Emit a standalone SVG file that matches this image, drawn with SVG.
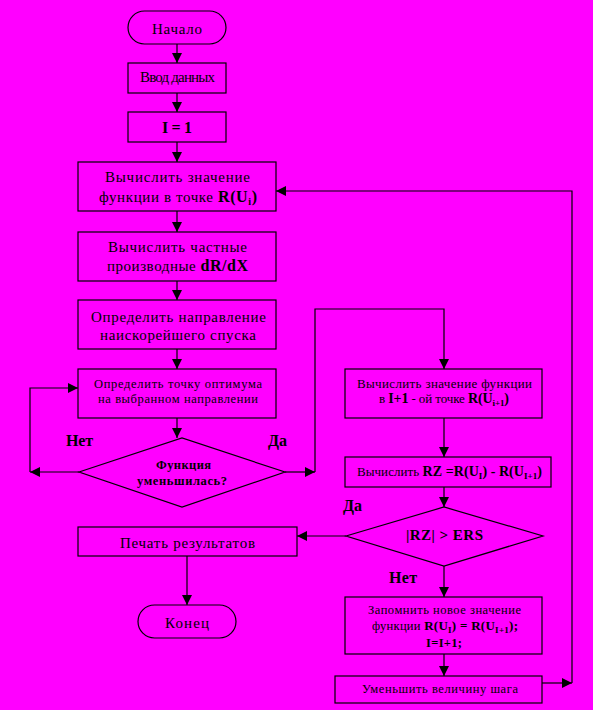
<svg xmlns="http://www.w3.org/2000/svg" width="593" height="710" viewBox="0 0 593 710">
<defs>
<marker id="ah" markerUnits="userSpaceOnUse" markerWidth="10" markerHeight="10" refX="10" refY="5" orient="auto"><path d="M0,0 L10,5 L0,10 z" fill="#000"/></marker>
</defs>
<style>
.bx{fill:none;stroke:#000;stroke-width:1.2}
.t{font-family:"Liberation Serif","Times New Roman",serif;font-size:15px;fill:#000;text-anchor:middle}
.s{font-size:12.5px}
.m{font-size:13px}
.b{font-weight:bold}
.l{font-size:16px}
.c{fill:none;stroke:#000;stroke-width:1.2}
</style>
<rect width="593" height="710" fill="#FF00FF"/>

<g id="start">
<rect class="bx" x="128" y="11" width="98" height="33" rx="16.5"/>
<text class="t" x="177" y="34" textLength="50">Начало</text>
</g>
<g id="input">
<rect class="bx" x="128" y="63" width="98" height="30"/>
<text class="t" x="177.5" y="82" textLength="75">Ввод данных</text>
</g>
<g id="init">
<rect class="bx" x="128" y="112" width="98" height="30"/>
<text class="t b" x="177" y="133" textLength="30" style="font-size:16px">I = 1</text>
</g>
<g id="calc-value">
<rect class="bx" x="78" y="162" width="198" height="49"/>
<text class="t" x="177.5" y="182" textLength="145">Вычислить значение</text>
<text class="t" x="178" y="202" textLength="158">функции в точке <tspan class="b" style="font-size:16px">R(U</tspan><tspan class="b" style="font-size:10px" dy="3">i</tspan><tspan class="b" style="font-size:16px" dy="-3">)</tspan></text>
</g>
<g id="calc-deriv">
<rect class="bx" x="78" y="232" width="198" height="49"/>
<text class="t" x="177.5" y="252" textLength="139">Вычислить частные</text>
<text class="t" x="177.5" y="271" textLength="141">производные <tspan class="b" style="font-size:16px">dR/dX</tspan></text>
</g>
<g id="direction">
<rect class="bx" x="78" y="300" width="198" height="49"/>
<text class="t" x="178.5" y="322" textLength="175">Определить направление</text>
<text class="t" x="178" y="340" textLength="156">наискорейшего спуска</text>
</g>
<g id="optimum">
<rect class="bx" x="78" y="369" width="198" height="49"/>
<text class="t s" x="178" y="388" textLength="168">Определить точку оптимума</text>
<text class="t s" x="178" y="403" textLength="160">на выбранном направлении</text>
</g>
<g id="decreased">
<polygon class="bx" points="79,472 182,438 285,472 182,507"/>
<text class="t s b" x="183.5" y="469" textLength="55">Функция</text>
<text class="t s b" x="182" y="485" textLength="90">уменьшилась?</text>
</g>
<g id="print">
<rect class="bx" x="78" y="527" width="219" height="29"/>
<text class="t" x="187.5" y="548" textLength="135">Печать результатов</text>
</g>
<g id="end">
<rect class="bx" x="138" y="605" width="98" height="33" rx="16.5"/>
<text class="t" x="187" y="628" textLength="44">Конец</text>
</g>
<g id="calc-next">
<rect class="bx" x="345" y="369" width="197" height="49"/>
<text class="t m" x="444.5" y="388" textLength="175">Вычислить значение функции</text>
<text class="t m" x="444" y="403" textLength="130">в <tspan class="b" style="font-size:14px">I+1</tspan> - ой точке <tspan class="b" style="font-size:14px">R(U</tspan><tspan class="b" style="font-size:9px" dy="3">i+1</tspan><tspan class="b" style="font-size:14px" dy="-3">)</tspan></text>
</g>
<g id="calc-rz">
<rect class="bx" x="345" y="457" width="206" height="30"/>
<text class="t m" x="449.5" y="476" textLength="185">Вычислить <tspan class="b" style="font-size:14px">RZ =R(U</tspan><tspan class="b" style="font-size:9px" dy="3">I</tspan><tspan class="b" style="font-size:14px" dy="-3">) - R(U</tspan><tspan class="b" style="font-size:9px" dy="3">I+1</tspan><tspan class="b" style="font-size:14px" dy="-3">)</tspan></text>
</g>
<g id="compare">
<polygon class="bx" points="346,536 444,507 543,536 444,566"/>
<text class="t b" x="444.5" y="540" textLength="77">|RZ| &gt; ERS</text>
</g>
<g id="remember">
<rect class="bx" x="345" y="597" width="197" height="57"/>
<text class="t s" x="444.5" y="614" textLength="153">Запомнить новое значение</text>
<text class="t s" x="445" y="630" textLength="146">функции <tspan class="b" style="font-size:13px">R(U</tspan><tspan class="b" style="font-size:9px" dy="3">I</tspan><tspan class="b" style="font-size:13px" dy="-3">) = R(U</tspan><tspan class="b" style="font-size:9px" dy="3">I+1</tspan><tspan class="b" style="font-size:13px" dy="-3">);</tspan></text>
<text class="t s b" x="444" y="647" textLength="36">I=I+1;</text>
</g>
<g id="reduce">
<rect class="bx" x="335" y="676" width="207" height="27"/>
<text class="t s" x="440" y="693" textLength="156">Уменьшить величину шага</text>
</g>

<g id="labels">
<text class="t b l" x="79.5" y="446" textLength="27">Нет</text>
<text class="t b l" x="277.5" y="446" textLength="19">Да</text>
<text class="t b l" x="352.5" y="511" textLength="19">Да</text>
<text class="t b l" x="403" y="583" textLength="28">Нет</text>
</g>

<g id="connectors">
<path class="c" d="M177,44 V63" marker-end="url(#ah)"/>
<path class="c" d="M177,93 V112" marker-end="url(#ah)"/>
<path class="c" d="M177,142 V162" marker-end="url(#ah)"/>
<path class="c" d="M177,211 V232" marker-end="url(#ah)"/>
<path class="c" d="M177,281 V300" marker-end="url(#ah)"/>
<path class="c" d="M177,349 V369" marker-end="url(#ah)"/>
<path class="c" d="M177,418 V438" marker-end="url(#ah)"/>
<path class="c" d="M79,472 H30" marker-end="url(#ah)"/>
<path class="c" d="M30,472 V388 H78" marker-end="url(#ah)"/>
<path class="c" d="M285,472 H315" marker-end="url(#ah)"/>
<path class="c" d="M315,472 V309 H444 V369" marker-end="url(#ah)"/>
<path class="c" d="M444,418 V457" marker-end="url(#ah)"/>
<path class="c" d="M444,487 V507" marker-end="url(#ah)"/>
<path class="c" d="M346,536 H297" marker-end="url(#ah)"/>
<path class="c" d="M444,566 V597" marker-end="url(#ah)"/>
<path class="c" d="M444,654 V676" marker-end="url(#ah)"/>
<path class="c" d="M542,683 H572" marker-end="url(#ah)"/>
<path class="c" d="M572,683 V191 H276" marker-end="url(#ah)"/>
<path class="c" d="M187,556 V605" marker-end="url(#ah)"/>
</g>
</svg>
